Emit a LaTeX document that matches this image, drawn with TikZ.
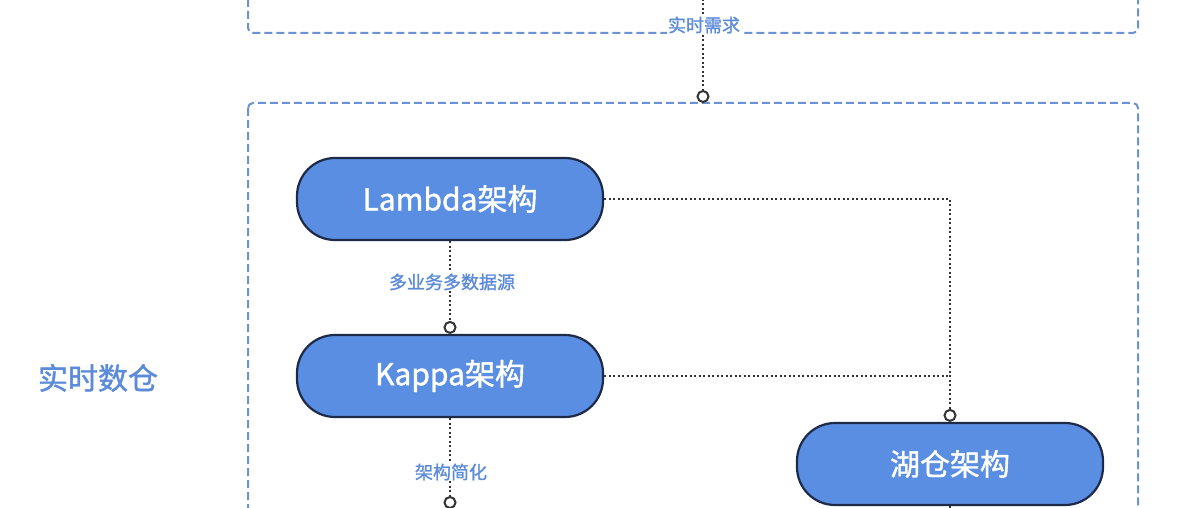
\documentclass[tikz,border=0pt]{standalone}
\usepackage{fontspec}
\setmainfont{Noto Sans CJK SC}
\newfontfamily\medfont{Noto Sans CJK SC}[FakeBold=1.3]
\usetikzlibrary{arrows.meta}
\definecolor{nodefill}{HTML}{5A8EE2}
\definecolor{nodeline}{HTML}{1E2B48}
\definecolor{lblblue}{HTML}{5B8BD9}
\definecolor{boxblue}{HTML}{6B93D3}
\definecolor{dotgray}{HTML}{333333}
\tikzset{
  archbox/.style={draw=nodeline, line width=2.2pt, fill=nodefill, rounded corners=38pt,
    minimum width=306pt, minimum height=82pt, text=white, font=\fontsize{30}{30}\selectfont\medfont, inner sep=0pt},
  groupbox/.style={draw=boxblue, line width=2pt, dash pattern=on 8pt off 4pt, rounded corners=5pt},
  link/.style={draw=dotgray, line width=2pt, dash pattern=on 2pt off 2.5pt,
    -{Circle[length=13pt, width=13pt, fill=white, line width=2pt]}},
  plainlink/.style={draw=dotgray, line width=2pt, dash pattern=on 2pt off 2.5pt},
  lbl/.style={fill=white, text=lblblue, font=\fontsize{18}{18}\selectfont\medfont, inner sep=1pt},
}
\begin{document}
\begin{tikzpicture}[x=1pt, y=-1pt]
\useasboundingbox (0,0) rectangle (1194,508);
\clip (0,0) rectangle (1194,508);
\fill[white] (0,0) rectangle (1194,508);
% group boxes
\draw[groupbox] (248,-30) rectangle (1138,33);
\draw[groupbox] (248,103) rectangle (1138,560);
\coordinate (topsrc) at (703,-10);
\coordinate (boxtop) at (703,103);
% nodes
\node[archbox] (lambda) at (450,199) {Lambda架构};
\node[archbox] (kappa) at (450,376) {Kappa架构};
\node[archbox] (lake) at (950,464) {湖仓架构};
\node[text=lblblue, font=\fontsize{30}{30}\selectfont\medfont, inner sep=0pt] (title) at (98,378) {实时数仓};
\coordinate (kappanext) at (450,509);
\coordinate (lakenext) at (950,530);
% connectors
\draw[link] (topsrc) -- (boxtop);
\node[lbl] (need) at (704,25) {实时需求};
\draw[link] (lambda.south) -- (kappa.north);
\node[lbl] (multi) at (452,282) {多业务多数据源};
\draw[link] (kappa.south) -- (kappanext);
\node[lbl] (simp) at (451,472) {架构简化};
\draw[link] (lambda.east) -| (lake.north);
\draw[plainlink] (kappa.east) -- (lake.north |- kappa.east);
\draw[plainlink] (lake.south) -- (lakenext);
\end{tikzpicture}
\end{document}
